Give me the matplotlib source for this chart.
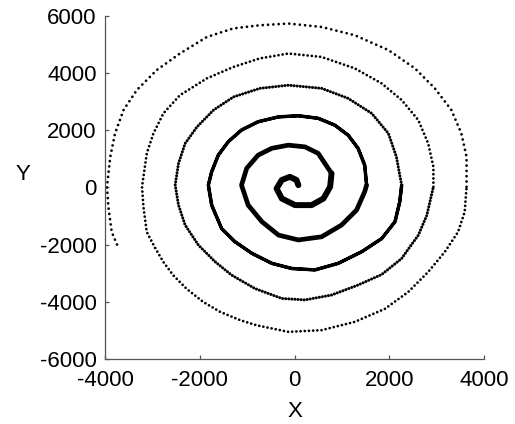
import matplotlib
matplotlib.use("Agg")
import matplotlib.pyplot as plt

plt.rcParams['font.family'] = ['Liberation Sans', 'DejaVu Sans']
plt.rcParams['axes.unicode_minus'] = False

# points read along the spiral, centre outwards, one list per turn
turn0_x = [80, 40, -100, -270, -380, -270, 10, 360, 610, 750]
turn0_y = [80, 260, 370, 260, -40, -390, -620, -620, -390, 20]

turn1_x = [780, 640, 500, 220, -130, -480, -770, -1010, -1120, -980, -690, -340,
           80, 570, 990, 1310, 1480]
turn1_y = [490, 840, 1190, 1420, 1480, 1370, 1130, 670, 80, -620, -1200, -1670,
           -1840, -1730, -1320, -790, -150]

turn2_x = [1520, 1480, 1340, 1130, 850, 500, 80, -340, -770, -1120, -1400, -1610,
           -1750, -1820, -1750, -1540, -1260, -900, -480, -60, 430, 920, 1420,
           1840, 2120, 2220]
turn2_y = [80, 780, 1370, 1830, 2180, 2420, 2510, 2470, 2300, 2010, 1600, 1130,
           550, 80, -620, -1440, -1900, -2310, -2660, -2840, -2890, -2660, -2250,
           -1790, -1200, -500]

turn3_x = [2260, 2200, 2150, 1980, 1630, 1130, 570, -130, -730, -1290, -1710,
           -2060, -2310, -2450, -2520, -2450, -2310, -2030, -1680, -1330, -840,
           -270, 220, 780, 1340, 1840, 2260, 2430, 2610, 2790]
turn3_y = [80, 610, 1070, 1890, 2590, 3120, 3470, 3580, 3470, 3170, 2710,
           2120, 1540, 840, 80, -620, -1320, -2020, -2600, -3070, -3540,
           -3890, -3940, -3770, -3420, -3050, -2490, -2090, -1680, -980]

turn4_x = [2930, 2930, 2820, 2610, 2260, 1840, 1270, 570, -130, -730, -1290,
           -1850, -2420, -2770, -2980, -3120, -3220, -3190, -3120, -2940, -2770,
           -2560, -2280, -1930, -1570, -1150, -800, -130, 570, 1270, 1910, 2400,
           2820, 3170, 3450, 3590]
turn4_y = [20, 720, 1540, 2360, 3060, 3640, 4170, 4570, 4690, 4520, 4220,
           3820, 3230, 2590, 1890, 1190, 20, -680, -1560, -2130, -2610,
           -3080, -3550, -4010, -4360, -4650, -4830, -5060, -5000, -4710, -4250, -3660,
           -2960, -2260, -1560, -860]

turn5_x = [3630, 3630, 3520, 3310, 2960, 2540, 1980, 1270, 570, -130, -730,
           -1290, -1850, -2420, -2910, -3330, -3610, -3790, -3890, -3960, -3930,
           -3860, -3740]
turn5_y = [20, 1070, 1890, 2710, 3470, 4170, 4810, 5330, 5620, 5740, 5680,
           5570, 5270, 4690, 4110, 3410, 2710, 1890, 1070, 20, -680,
           -1560, -2030]

x_ticks = [-4000, -2000, 0, 2000, 4000]
y_ticks = [-6000, -4000, -2000, 0, 2000, 4000, 6000]

turns = [(turn0_x, turn0_y), (turn1_x, turn1_y), (turn2_x, turn2_y),
         (turn3_x, turn3_y), (turn4_x, turn4_y), (turn5_x, turn5_y)]
# line width and dot gap for each turn (inner turns look solid)
widths = [4.3, 3.4, 2.6, 2.2, 2.0, 2.0]
gaps = [None, None, 0.35, 1.0, 1.5, 1.9]

fig = plt.figure(figsize=(5.15, 4.24), dpi=100)
ax = fig.add_axes([0.204, 0.154, 0.736, 0.808])

for i, (tx, ty) in enumerate(turns):
    tx = list(tx)
    ty = list(ty)
    if i + 1 < len(turns):
        tx.append(turns[i + 1][0][0])
        ty.append(turns[i + 1][1][0])
    if gaps[i] is None:
        ax.plot(tx, ty, color='black', lw=widths[i], solid_capstyle='round',
                solid_joinstyle='round')
    else:
        ax.plot(tx, ty, color='black', lw=widths[i], linestyle=(0, (0.01, gaps[i])),
                dash_capstyle='round')

ax.set_xlim(-4000, 4000)
ax.set_ylim(-6000, 6000)
ax.set_xticks(x_ticks)
ax.set_yticks(y_ticks)

for s in ['top', 'right']:
    ax.spines[s].set_visible(False)
for s in ['left', 'bottom']:
    ax.spines[s].set_color('#555555')
    ax.spines[s].set_linewidth(0.9)

ax.tick_params(direction='in', length=3, width=0.9, color='#555555',
               labelsize=16, labelcolor='black')
ax.tick_params(axis='x', pad=8)
ax.tick_params(axis='y', pad=6)

ax.set_xlabel('X', fontsize=16, va='center')
ax.set_ylabel('Y', fontsize=16, rotation=0, ha='center', va='center')
ax.xaxis.set_label_coords(0.5, -0.153)
ax.yaxis.set_label_coords(-0.216, 0.5375)

plt.savefig('out.png', dpi=100)
